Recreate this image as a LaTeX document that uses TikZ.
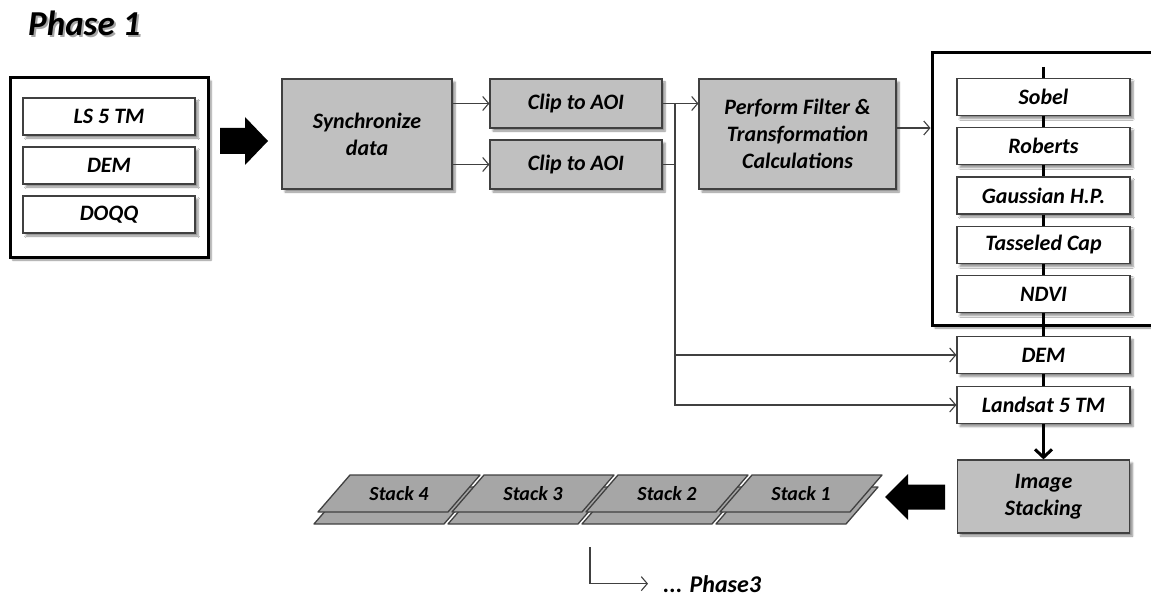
\documentclass[tikz,border=0pt]{standalone}
\usepackage{fontspec}
\setmainfont{Carlito}
\usetikzlibrary{arrows.meta,shadows.blur}
\definecolor{boxgray}{HTML}{C0C0C0}
\definecolor{stackgray}{HTML}{A6A6A6}
\definecolor{edgegray}{HTML}{404040}
\tikzset{
  lbl/.style={font=\fontsize{22}{27}\selectfont\bfseries\itshape, align=center, inner sep=0pt},
  shade/.style={blur shadow={shadow xshift=3pt, shadow yshift=-3pt, shadow blur steps=6, shadow opacity=45}},
  graybox/.style={lbl, draw=edgegray, fill=boxgray, line width=1.2pt, shade},
  whitebox/.style={lbl, draw=edgegray, fill=white, line width=1.2pt, shade, minimum width=172pt, minimum height=37pt},
  frame/.style={draw=black, fill=white, line width=3pt, shade},
  conn/.style={draw=edgegray, line width=1.1pt, -{Straight Barb[length=6pt,width=14pt]}},
  plain/.style={draw=edgegray, line width=1.1pt},
  colline/.style={draw=black, line width=3pt},
  stackshape/.style={draw=edgegray, fill=stackgray, line width=1.3pt, line join=round},
}
\begin{document}
\begin{tikzpicture}[x=1pt, y=-1pt]
\useasboundingbox (0,0) rectangle (1151,596);
% title
\node[lbl, font=\fontsize{35}{40}\selectfont\bfseries\itshape, text=black!35, anchor=base west] (titleshadow) at (30,38) {Phase 1};
\node[lbl, font=\fontsize{35}{40}\selectfont\bfseries\itshape, anchor=base west] (title) at (28,36) {Phase 1};
% input data
\node[frame, minimum width=198pt, minimum height=179pt] (inputs) at (109,167.5) {};
\node[whitebox] (ls) at (109,116.5) {LS 5 TM};
\node[whitebox] (dem) at (109,165.5) {DEM};
\node[whitebox] (doqq) at (109,214.5) {DOQQ};
\fill (220,128) -- (245,128) -- (245,117) -- (268,141) -- (245,165) -- (245,154) -- (220,154) -- cycle;
% processing
\node[graybox, minimum width=170pt, minimum height=110pt] (sync) at (367,134) {Synchronize\\data};
\node[graybox, minimum width=172pt, minimum height=49pt] (clip1) at (576,103.5) {Clip to AOI};
\node[graybox, minimum width=172pt, minimum height=49pt] (clip2) at (576,164.5) {Clip to AOI};
\node[graybox, minimum width=197pt, minimum height=110pt] (perform) at (797.5,134) {Perform Filter \&\\Transformation\\Calculations};
% filter outputs
\node[frame, minimum width=228pt, minimum height=272pt] (filters) at (1046,189) {};
\node[whitebox, minimum width=173pt] (sobel) at (1043.5,97) {Sobel};
\node[whitebox, minimum width=173pt] (roberts) at (1043.5,146) {Roberts};
\node[whitebox, minimum width=173pt] (gauss) at (1043.5,195.5) {Gaussian H.P.};
\node[whitebox, minimum width=173pt] (tassel) at (1043.5,245) {Tasseled Cap};
\node[whitebox, minimum width=173pt] (ndvi) at (1043.5,294) {NDVI};
\node[whitebox, minimum width=173pt] (dem2) at (1043.5,355) {DEM};
\node[whitebox, minimum width=173pt] (landsat) at (1043.5,405) {Landsat 5 TM};
\node[graybox, minimum width=172pt, minimum height=73pt] (stacking) at (1043.5,496.5) {Image\\Stacking};
\coordinate (coltop) at (1043.5,67);
\draw[colline] (coltop) -- (sobel);
\foreach \a/\b in {sobel/roberts, roberts/gauss, gauss/tassel, tassel/ndvi, ndvi/dem2, dem2/landsat}
  \draw[colline] (\a) -- (\b);
\draw[colline, -{Straight Barb[length=8pt,width=17pt]}] (landsat) -- (stacking);
% connectors
\draw[conn] (sync.east |- clip1.west) -- (clip1.west);
\draw[conn] (sync.east |- clip2.west) -- (clip2.west);
\coordinate (split) at (675,103.5);
\draw[conn] (clip1.east) -- (perform.west |- clip1.east);
\draw[plain] (clip2.east) -- (split |- clip2.east);
\draw[conn] (split) |- (landsat.west);
\draw[conn] (split |- dem2.west) -- (dem2.west);
\coordinate (pf) at ([yshift=6pt]perform.east);
\draw[conn] (pf) -- (pf -| filters.west);
% stacks
\fill (945,484.5) -- (908,484.5) -- (908,474) -- (885,497) -- (908,520) -- (908,509.5) -- (945,509.5) -- cycle;
\foreach \i/\x in {4/350, 3/484, 2/618, 1/752} {
  \draw[stackshape] (\x-4,487) -- ++(130,0) -- ++(-32,37) -- ++(-130,0) -- cycle;
  \draw[stackshape] (\x,475) -- ++(130,0) -- ++(-32,37) -- ++(-130,0) -- cycle;
  \node[lbl, font=\fontsize{20}{24}\selectfont\bfseries\itshape] (stack\i) at (\x+49,493.5) {Stack \i};
}
\coordinate (ph3from) at (590,547);
\node[lbl, font=\fontsize{24}{28}\selectfont\bfseries\itshape, anchor=base west] (phase3) at (663,592) {... Phase3};
\draw[conn, shorten >=15pt] (ph3from) |- (phase3.west);
\end{tikzpicture}
\end{document}
